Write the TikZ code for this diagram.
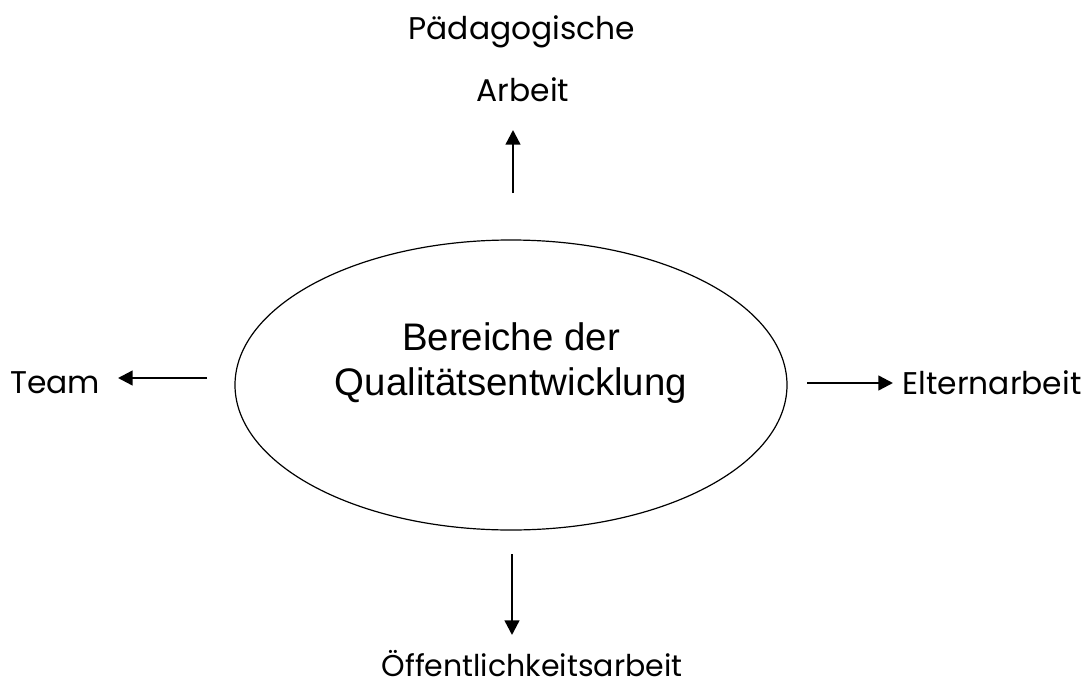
\documentclass[tikz,border=0pt]{standalone}
\usepackage{fontspec}
\setmainfont{Poppins}
\newfontfamily\arialfont{Liberation Sans}
\usetikzlibrary{arrows.meta}
\begin{document}
\begin{tikzpicture}[x=0.75pt,y=-0.75pt,
  lbl/.style={font=\fontsize{23.5}{28}\selectfont, inner sep=0pt},
  arr/.style={line width=1.8pt,-{Triangle[length=11pt,width=11pt]}}]
\useasboundingbox (0,0) rectangle (1089,689);
\draw[line width=0.9pt] (511,385) ellipse [x radius=276, y radius=145];
\node[font=\arialfont\fontsize{28.8}{34}\selectfont, align=center] (c) at (511,363) {Bereiche der\\Qualitätsentwicklung};
\node[lbl] (p1) at (522,32) {Pädagogische};
\node[lbl] (p2) at (523,90) {Arbeit};
\node[lbl] (t) at (55,383) {Team};
\node[lbl] (e) at (992,383) {Elternarbeit};
\node[lbl, font=\fontsize{22.5}{27}\selectfont] (o) at (532,664) {Öffentlichkeitsarbeit};
\coordinate (a1s) at (513,193); \coordinate (a1e) at (513,130);
\coordinate (a2s) at (207,378); \coordinate (a2e) at (118,378);
\coordinate (a3s) at (807,383); \coordinate (a3e) at (893,383);
\coordinate (a4s) at (512,554); \coordinate (a4e) at (512,635);
\draw[arr] (a1s) -- (a1e);
\draw[arr] (a2s) -- (a2e);
\draw[arr] (a3s) -- (a3e);
\draw[arr] (a4s) -- (a4e);
\end{tikzpicture}
\end{document}
